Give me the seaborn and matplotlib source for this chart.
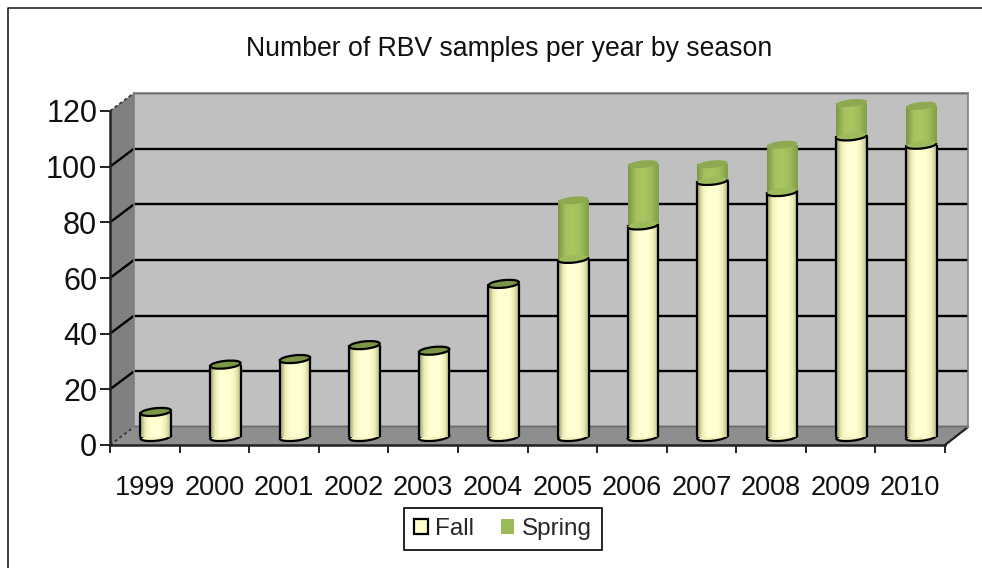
import numpy as np
import matplotlib
matplotlib.use("Agg")
import matplotlib.pyplot as plt
import seaborn as sns
from matplotlib.colors import LinearSegmentedColormap
from matplotlib.patches import Arc, Ellipse, Patch, Polygon
from matplotlib.transforms import IdentityTransform

years = ["1999", "2000", "2001", "2002", "2003", "2004",
         "2005", "2006", "2007", "2008", "2009", "2010"]
fall = [9, 26, 28, 33, 31, 55, 64, 76, 92, 88, 108, 105]
spring = [0, 0, 0, 0, 0, 0, 21, 22, 6, 17, 12, 14]
y_ticks = [0, 20, 40, 60, 80, 100, 120]

sns.set_theme(style="white")
plt.rcParams["font.family"] = ["Liberation Sans", "DejaVu Sans"]

W, H = 982, 568
FONT = 19.5
BAR_W = 0.44
FALL_C = "#ffffcc"
SPRING_C = "#9bbb59"


def box(x0, y_top, x1, y_bot):
    # pixel box (image coords) to figure fraction
    return [x0 / W, 1 - y_bot / H, (x1 - x0) / W, (y_bot - y_top) / H]


fig = plt.figure(figsize=(W / 100, H / 100), dpi=100, facecolor="white")

# background in pixel coords: frame, side wall, floor
bg = fig.add_axes([0, 0, 1, 1])
bg.set_xlim(0, W)
bg.set_ylim(H, 0)
bg.axis("off")
bg.plot([8, 8, W], [H, 8, 8], color="#222222", lw=1.2, solid_capstyle="butt")
bg.add_patch(Polygon([(110, 445), (110, 111), (134, 93), (134, 427)], fc="#808080", ec="none"))
bg.add_patch(Polygon([(110, 445), (945, 445), (968, 427), (134, 427)], fc="#8e8e8e", ec="none"))

# back wall with gridlines
wall = fig.add_axes(box(134, 93, 968, 427), zorder=1)
wall.set_facecolor("#c0c0c0")
wall.set_ylim(0, 120)
wall.set_xticks([])
wall.set_yticks(y_ticks)
wall.tick_params(left=False, labelleft=False)
wall.grid(axis="y", color="black", lw=1.7)
for name, sp in wall.spines.items():
    sp.set_color("#808080")
    sp.set_linewidth(1.2)

# front plane: ticks and labels
ax = fig.add_axes(box(110, 111, 945, 445), zorder=2)
ax.patch.set_alpha(0)
ax.set_xlim(-0.5, 11.5)
ax.set_ylim(0, 120)
ax.set_yticks(y_ticks)
ax.set_xticks(range(len(years)), labels=years)
ax.set_xticks(np.arange(-0.5, 12), minor=True)
ax.tick_params(axis="x", which="major", length=0, pad=21.5, labelsize=FONT, colors="#111111")
ax.tick_params(axis="x", which="minor", length=5.8, width=1.4, color="#222222", bottom=True)
ax.tick_params(axis="y", length=7.2, width=1.4, color="#222222", pad=2, labelsize=22,
               labelcolor="#111111", left=True)
for lab in ax.get_yticklabels():
    lab.set_verticalalignment("center_baseline")
sns.despine(ax=ax)
ax.spines["left"].set_color("#222222")
ax.spines["left"].set_linewidth(1.8)
ax.spines["bottom"].set_color("#222222")
ax.spines["bottom"].set_linewidth(1.8)

# slanted gridlines on the side wall
for v in y_ticks:
    py = 445 - v * 334 / 120
    if v in (0, 120):
        bg.plot([110, 134], [py, py - 18], color="#333333", lw=1.2, ls=(0, (2, 1.5)))
    else:
        bg.plot([110, 134], [py, py - 18], color="black", lw=1.7)
bg.plot([945, 968], [445, 427], color="#222222", lw=1.6)

# bars sit halfway into the depth
bars = fig.add_axes(box(121, 103, 956, 437), zorder=3)
bars.patch.set_alpha(0)
total = [f + s for f, s in zip(fall, spring)]
sns.barplot(x=years, y=total, color=SPRING_C, saturation=1, width=BAR_W, ax=bars, linewidth=0)
sns.barplot(x=years, y=fall, color=FALL_C, saturation=1, width=BAR_W, ax=bars, linewidth=0)
bars.set_xlim(-0.5, 11.5)
bars.set_ylim(0, 120)
bars.axis("off")

fall_cmap = LinearSegmentedColormap.from_list(
    "fall", ["#9c9c68", "#eeeeb8", "#ffffd2", "#ffffd2", "#ffffd2", "#eeeeb8", "#b8b880"])
spring_cmap = LinearSegmentedColormap.from_list(
    "spring", ["#7c9645", "#a4c35f", "#a8c763", "#9dbb5a", "#80a048"])
grad = np.linspace(0, 1, 64).reshape(1, -1)
IDENT = IdentityTransform()
ELL_W = BAR_W * 835 / 12
ELL_H = 7.5
TILT = 6


def cap(i, val, **kw):
    cx, cy = bars.transData.transform((i, val))
    return Ellipse((cx, cy), ELL_W, ELL_H, angle=TILT, transform=IDENT, clip_on=False, **kw)


def arc(i, val, color, lw, t1=180, t2=360):
    cx, cy = bars.transData.transform((i, val))
    return Arc((cx, cy), ELL_W, ELL_H, angle=TILT, theta1=t1, theta2=t2, transform=IDENT,
               clip_on=False, color=color, lw=lw, zorder=6)


spring_rects = list(bars.containers[0])
fall_rects = list(bars.containers[1])
for i, (f, s) in enumerate(zip(fall, spring)):
    # bottom of the cylinder
    bars.add_patch(cap(i, 0, fc="#f4f4c0", ec="black", lw=1.6, zorder=1))
    # body shading, clipped to the seaborn bars
    im = bars.imshow(grad, cmap=fall_cmap, aspect="auto", zorder=3,
                     extent=(i - BAR_W / 2, i + BAR_W / 2, 0, f))
    im.set_clip_path(fall_rects[i])
    fall_rects[i].set_zorder(1.5)
    spring_rects[i].set_zorder(1.5)
    bars.vlines([i - BAR_W / 2, i + BAR_W / 2], 0, f, color="black", lw=1.6, zorder=4)
    if s > 0:
        im2 = bars.imshow(grad, cmap=spring_cmap, aspect="auto", zorder=2.5,
                          extent=(i - BAR_W / 2, i + BAR_W / 2, f, f + s))
        im2.set_clip_path(spring_rects[i])
        bars.add_patch(cap(i, f + s, fc="#8daa50", ec="none", zorder=5))
        bars.add_patch(cap(i, f, fc="#9dbb5a", ec="none", zorder=5))
        bars.add_patch(arc(i, f, "black", 1.6))
    else:
        bars.add_patch(cap(i, f, fc="#7b9645", ec="black", lw=1.6, zorder=5))
bars.set_xlim(-0.5, 11.5)
bars.set_ylim(0, 120)

fig.suptitle("Number of RBV samples per year by season", x=509 / W, y=1 - 49 / H,
             va="center", ha="center", fontsize=19.2, color="#111111")

handles = [Patch(fc=FALL_C, ec="black", lw=1.6, label="Fall"),
           Patch(fc=SPRING_C, ec="none", label="Spring")]
leg = fig.legend(handles=handles, loc="center", bbox_to_anchor=(503 / W, 1 - 529 / H), ncol=2,
                 fancybox=False, framealpha=1, edgecolor="black", fontsize=17.5,
                 handlelength=0.55, handleheight=0.55, handletextpad=0.3, columnspacing=1.1,
                 borderpad=0.42, borderaxespad=0)
leg.get_frame().set_linewidth(1.2)

fig.savefig("out.png", dpi=100)
